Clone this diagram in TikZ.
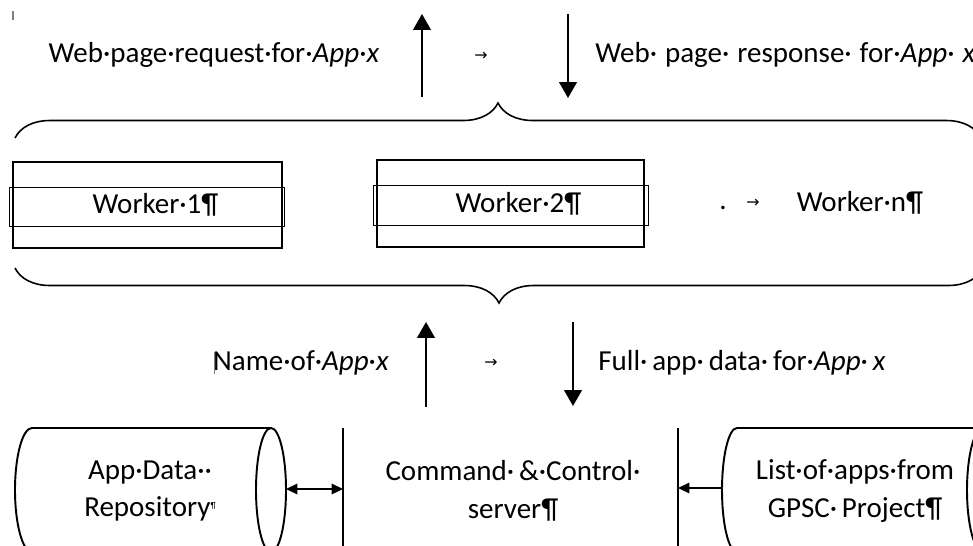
\documentclass[tikz,border=0pt]{standalone}
\usepackage{fontspec}
\setmainfont{Carlito}
\newfontfamily\symfont{DejaVu Sans}
\usetikzlibrary{arrows.meta,decorations.pathreplacing}

\begin{document}
\begin{tikzpicture}[x=0.02cm,y=-0.02cm,
    lbl/.style={font=\fontsize{16.5}{21.5}\selectfont,inner sep=0pt},
    worker/.style={draw,line width=1.2pt,minimum height=1.72cm,lbl},
    band/.style={draw,line width=0.4pt,minimum height=0.78cm,inner sep=0pt},
    flow/.style={line width=1.1pt,-{Triangle[length=9pt,width=10pt]}},
    link/.style={line width=1pt},
    tip/.tip={Triangle[length=6.5pt,width=6pt]},
    tabmark/.style={font=\symfont\fontsize{9}{9}\selectfont,inner sep=0pt},
    wbrace/.style={decorate,decoration={brace,amplitude=0.7cm},line width=0.9pt},
    drum/.style={line width=1.1pt}]
\useasboundingbox (0,0) rectangle (973,545);
\clip (0,0) rectangle (973,545);

% requests coming in from the web
\draw[gray,line width=0.8pt] (13,11) -- (13,20);
\node[lbl] (req) at (214,55) {Web·page·request·for·\textit{App}·\textit{x}};
\coordinate (req-s) at (422,97);
\coordinate (req-n) at (422,14);
\draw[flow] (req-s) -- (req-n);
\node[tabmark] (tab1) at (481,56) {→};
\coordinate (resp-n) at (568,14);
\coordinate (resp-s) at (568,98);
\draw[flow] (resp-n) -- (resp-s);
\node[lbl,anchor=west] (resp) at (595,55) {Web·\;page·\;response·\;for·\textit{App}·\;\textit{x}};

\coordinate (tb-w) at (15,138);
\coordinate (tb-e) at (981,138);
\draw[wbrace] (tb-w) -- (tb-e);

% the workers
\node[band,minimum width=5.5cm] (w1band) at (146.5,206.5) {};
\node[worker,minimum width=5.38cm] (w1) at (147.5,205) {\hspace{0.32cm}Worker·1¶};
\node[band,minimum width=5.5cm,minimum height=0.8cm] (w2band) at (510.5,205) {};
\node[worker,minimum width=5.34cm,minimum height=1.74cm] (w2) at (510.5,203.5) {\hspace{0.32cm}Worker·2¶};
\node[lbl] (dots) at (723,208) {.};
\node[tabmark] (tab3) at (753,203) {→};
\node[lbl] (wn) at (860,203) {Worker·n¶};

\coordinate (bb-w) at (15,268);
\coordinate (bb-e) at (983,268);
\draw[wbrace] (bb-e) -- (bb-w);

% between workers and C&C
\draw[gray,line width=0.5pt] (214,352) -- (214,374);
\node[lbl] (name) at (301,363) {Name·of·\textit{App}·\textit{x}};
\coordinate (name-s) at (426,407);
\coordinate (name-n) at (426,322);
\draw[flow] (name-s) -- (name-n);
\node[tabmark] (tab2) at (491,363) {→};
\coordinate (full-n) at (573,322);
\coordinate (full-s) at (573,406);
\draw[flow] (full-n) -- (full-s);
\node[lbl] (full) at (742,363) {Full·\,app·\,data·\,for·\textit{App}·\,\textit{x}};

% storage and server
\draw[drum] (270,428) -- (32,428) arc[start angle=270,end angle=90,x radius=17,y radius=62] -- (270,552);
\draw[drum] (271,490) ellipse[x radius=15,y radius=62];
\node[lbl,align=center] (repo) at (150,491) {App·Data··\\Repository\raisebox{0.6ex}{\tiny¶}};
\coordinate (repo-e) at (286,489);
\coordinate (cc-w) at (343,489);
\draw[link,tip-tip] (repo-e) -- (cc-w);

\draw[drum] (343,428) -- (343,560);
\draw[drum] (678,428) -- (678,560);
\node[lbl,align=center] (cc) at (513,491) {Command·\,\&·Control·\\server¶};

\coordinate (list-w) at (722,488);
\coordinate (cc-e) at (678,488);
\draw[link,-tip] (list-w) -- (cc-e);
\draw[drum] (990,428) -- (737,428) arc[start angle=270,end angle=90,x radius=15,y radius=62] -- (990,552);
\draw[drum] (983,490) ellipse[x radius=16,y radius=62];
\node[lbl,align=center] (list) at (855,491) {List·of·apps·from\\GPSC·\,Project¶};
\end{tikzpicture}
\end{document}
